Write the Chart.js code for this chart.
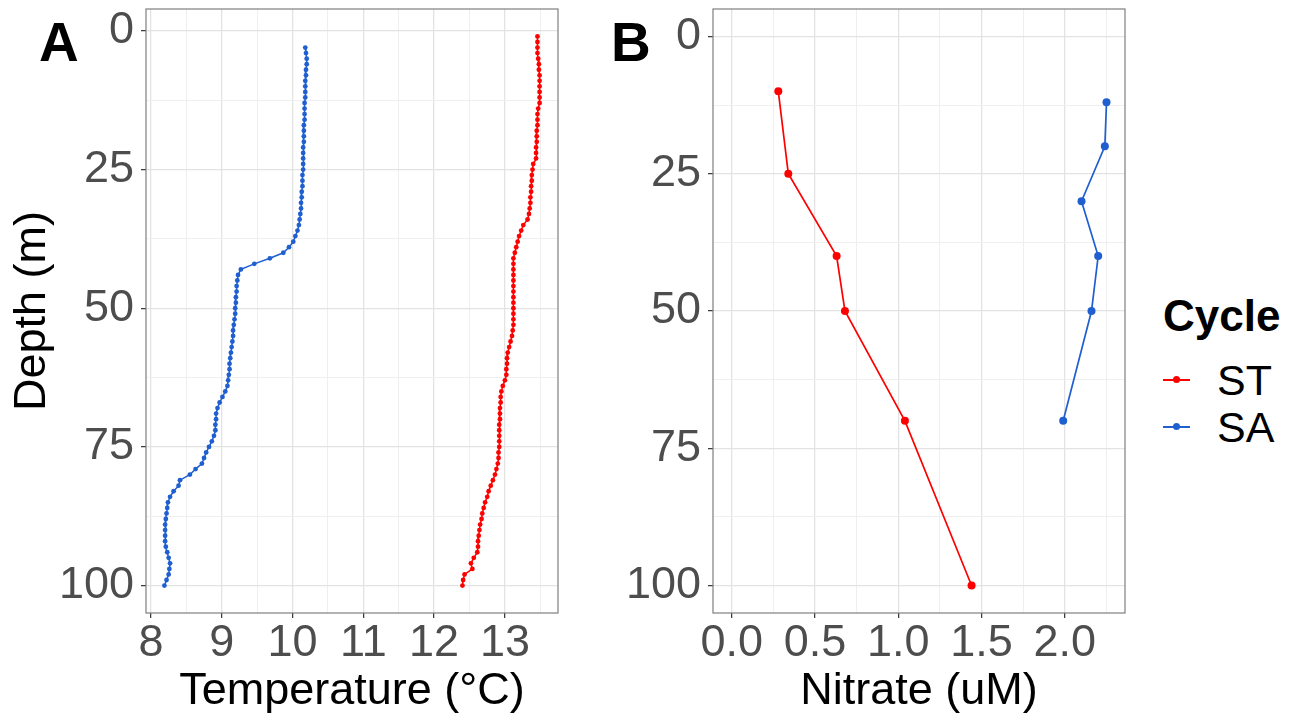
<!DOCTYPE html>
<html>
<head>
<meta charset="utf-8">
<title>Depth profiles</title>
<script src="https://cdn.jsdelivr.net/npm/chart.js@4.4.1/dist/chart.umd.min.js"></script>
<style>
  html, body { margin: 0; padding: 0; background: #fff; }
  #wrap { position: relative; width: 1299px; height: 719px; overflow: hidden;
          font-family: "Liberation Sans", Arial, Helvetica, sans-serif; }
  canvas { position: absolute; top: 0; }
  #chartA { left: 0; }
  #chartB { left: 600px; }
  .tag { position: absolute; font-weight: bold; font-size: 55px; line-height: 55px; color: #000; }
  #legend { position: absolute; left: 1163px; top: 0; }
  .leg-title { position: absolute; left: 0; font-weight: bold; font-size: 44px; line-height: 44px; white-space: nowrap; }
  .leg-item { position: absolute; left: 0; height: 44px; display: flex; align-items: center; white-space: nowrap;
              font-size: 43px; line-height: 44px; color: #000; }
  .leg-key { position: relative; width: 27px; height: 2px; margin-right: 27px; }
  .leg-key span { position: absolute; left: 10px; top: -3px; width: 7px; height: 7px; border-radius: 50%; }
</style>
</head>
<body>
<div id="wrap">
  <canvas id="chartA" width="570" height="719"></canvas>
  <canvas id="chartB" width="560" height="719"></canvas>
  <div class="tag" style="left:39px; top:15px;">A</div>
  <div class="tag" style="left:611px; top:15px;">B</div>
  <div id="legend"></div>
</div>
<script>
// ---- data ----
const cycles = ["ST", "SA"];
const cycleColors = ["#ff0000", "#1f5fd0"];

// Panel A: CTD temperature profiles (1 m bins)
const depthST = [1,2,3,4,5,6,7,8,9,10,11,12,13,14,15,16,17,18,19,20,21,22,23,24,25,26,27,28,29,30,31,32,33,34,35,36,37,38,39,40,41,42,43,44,45,46,47,48,49,50,51,52,53,54,55,56,57,58,59,60,61,62,63,64,65,66,67,68,69,70,71,72,73,74,75,76,77,78,79,80,81,82,83,84,85,86,87,88,89,90,91,92,93,94,95,96,97,98,99,100];
const tempST = [13.46,13.46,13.46,13.46,13.47,13.48,13.48,13.49,13.49,13.49,13.49,13.49,13.49,13.47,13.46,13.46,13.46,13.45,13.45,13.45,13.44,13.44,13.44,13.40,13.39,13.38,13.38,13.37,13.37,13.36,13.36,13.35,13.34,13.32,13.26,13.23,13.20,13.18,13.16,13.14,13.12,13.12,13.12,13.12,13.12,13.12,13.12,13.12,13.12,13.12,13.12,13.12,13.12,13.11,13.10,13.08,13.06,13.04,13.03,13.03,13.02,13.02,13.00,12.97,12.95,12.94,12.94,12.93,12.93,12.93,12.92,12.92,12.92,12.92,12.92,12.91,12.91,12.90,12.88,12.86,12.83,12.80,12.77,12.75,12.72,12.70,12.68,12.67,12.65,12.64,12.63,12.62,12.62,12.61,12.56,12.52,12.54,12.43,12.41,12.40];

const depthSA = [3,4,5,6,7,8,9,10,11,12,13,14,15,16,17,18,19,20,21,22,23,24,25,26,27,28,29,30,31,32,33,34,35,36,37,38,39,40,41,42,43,44,45,46,47,48,49,50,51,52,53,54,55,56,57,58,59,60,61,62,63,64,65,66,67,68,69,70,71,72,73,74,75,76,77,78,79,80,81,82,83,84,85,86,87,88,89,90,91,92,93,94,95,96,97,98,99,100];
const tempSA = [10.18,10.19,10.20,10.20,10.19,10.19,10.18,10.18,10.18,10.18,10.17,10.17,10.17,10.17,10.16,10.16,10.16,10.16,10.15,10.15,10.15,10.15,10.15,10.14,10.14,10.14,10.13,10.13,10.12,10.12,10.11,10.10,10.09,10.07,10.04,10.01,9.95,9.87,9.68,9.46,9.27,9.23,9.22,9.21,9.21,9.20,9.20,9.19,9.19,9.18,9.17,9.16,9.16,9.15,9.14,9.13,9.12,9.11,9.11,9.10,9.09,9.08,9.05,9.01,8.97,8.94,8.92,8.92,8.91,8.91,8.89,8.86,8.82,8.78,8.75,8.72,8.63,8.55,8.41,8.39,8.32,8.27,8.24,8.23,8.22,8.21,8.20,8.20,8.20,8.20,8.21,8.23,8.25,8.27,8.26,8.25,8.22,8.19];

// Panel B: bottle nitrate
const nitDepthST = [10, 25, 40, 50, 70, 100];
const nitrateST = [0.28, 0.34, 0.63, 0.68, 1.04, 1.44];
const nitDepthSA = [12, 20, 30, 40, 50, 70];
const nitrateSA = [2.25, 2.24, 2.10, 2.20, 2.16, 1.99];

// axis ticks
const depthMajor = [0, 25, 50, 75, 100];
const depthMinor = [12.5, 37.5, 62.5, 87.5];
const tempMajor = [8, 9, 10, 11, 12, 13];
const tempMinor = [8.5, 9.5, 10.5, 11.5, 12.5, 13.5];
const nitMajor = [0, 0.5, 1.0, 1.5, 2.0];
const nitMinor = [0.25, 0.75, 1.25, 1.75, 2.25];

const FONT = '"Liberation Sans", Arial, Helvetica, sans-serif';

function toPoints(xs, ys) {
  return xs.map((x, i) => ({ x: x, y: ys[i] }));
}

function tickSet(major, minor) {
  return major.concat(minor).sort((a, b) => a - b);
}

function isIn(list, v) {
  return list.some((m) => Math.abs(m - v) < 1e-9);
}

// ggplot-like panel frame drawn round the plot area
const panelBorder = {
  id: "panelBorder",
  afterDraw(chart) {
    const { ctx, chartArea: a } = chart;
    ctx.save();
    ctx.strokeStyle = "#7f7f7f";
    ctx.lineWidth = 1.2;
    ctx.strokeRect(a.left, a.top, a.right - a.left, a.bottom - a.top);
    ctx.restore();
  }
};

function axis(opts) {
  const { min, max, major, minor, reverse, fmt, title, size, horizontal } = opts;
  return {
    type: "linear",
    min, max, reverse: !!reverse,
    bounds: "data",
    afterBuildTicks: (a) => { a.ticks = tickSet(major, minor).map((v) => ({ value: v })); },
    afterFit: (a) => {
      if (horizontal) a.height = size; else a.width = size;
      // labels may hang over the panel edges, no extra room needed
      a.paddingTop = 0; a.paddingBottom = 0; a.paddingLeft = 0; a.paddingRight = 0;
    },
    border: { display: false },
    grid: {
      color: (c) => isIn(major, c.tick.value) ? "#e3e3e3" : "#efefef",
      lineWidth: (c) => isIn(major, c.tick.value) ? 1.3 : 1,
      tickColor: (c) => isIn(major, c.tick.value) ? "#333333" : "rgba(0,0,0,0)",
      tickWidth: 1.2,
      tickLength: 5,
      drawTicks: true
    },
    ticks: {
      autoSkip: false,
      maxRotation: 0,
      padding: horizontal ? 3 : 7,
      color: "#4d4d4d",
      font: { family: FONT, size: 45, lineHeight: 1 },
      callback: (v) => isIn(major, v) ? fmt(v) : ""
    },
    title: title ? {
      display: true,
      text: title,
      color: "#000",
      font: { family: FONT, size: 45, lineHeight: 1.2 },
      padding: horizontal ? { top: 0, bottom: 0 } : { top: 6, bottom: 0 }
    } : { display: false }
  };
}

function baseOptions(xAxis, yAxis, padRight) {
  return {
    responsive: false,
    animation: false,
    events: [],
    layout: { padding: { left: 0, right: padRight, top: 9, bottom: 0 } },
    plugins: { legend: { display: false }, tooltip: { enabled: false } },
    scales: { x: xAxis, y: yAxis }
  };
}

function series(label, pts, color, radius, width) {
  return {
    label,
    data: pts,
    showLine: true,
    borderColor: color,
    backgroundColor: color,
    borderWidth: width,
    pointRadius: radius,
    pointBorderWidth: 0,
    pointBackgroundColor: color
  };
}

new Chart(document.getElementById("chartA"), {
  type: "scatter",
  data: {
    datasets: [
      series(cycles[0], toPoints(tempST, depthST), cycleColors[0], 2.4, 1.5),
      series(cycles[1], toPoints(tempSA, depthSA), cycleColors[1], 2.4, 1.5)
    ]
  },
  options: baseOptions(
    axis({ min: 7.93, max: 13.75, major: tempMajor, minor: tempMinor, fmt: (v) => String(v),
           title: "Temperature (°C)", size: 106, horizontal: true }),
    axis({ min: -3.95, max: 104.95, major: depthMajor, minor: depthMinor, reverse: true,
           fmt: (v) => String(v), title: "Depth (m)", size: 146 }),
    12
  ),
  plugins: [panelBorder]
});

new Chart(document.getElementById("chartB"), {
  type: "scatter",
  data: {
    datasets: [
      series(cycles[0], toPoints(nitrateST, nitDepthST), cycleColors[0], 4, 1.7),
      series(cycles[1], toPoints(nitrateSA, nitDepthSA), cycleColors[1], 4, 1.7)
    ]
  },
  options: baseOptions(
    axis({ min: -0.112, max: 2.361, major: nitMajor, minor: nitMinor, fmt: (v) => v.toFixed(1),
           title: "Nitrate (uM)", size: 106, horizontal: true }),
    axis({ min: -5, max: 105, major: depthMajor, minor: depthMinor, reverse: true,
           fmt: (v) => String(v), size: 113 }),
    35
  ),
  plugins: [panelBorder]
});

// legend (shared by both panels)
const legend = document.getElementById("legend");
legend.innerHTML = `<div class="leg-title" style="top:294px">Cycle</div>` +
  cycles.map((c, i) => `
    <div class="leg-item" style="top:${358 + i * 47}px">
      <div class="leg-key" style="background:${cycleColors[i]}"><span style="background:${cycleColors[i]}"></span></div>
      ${c}
    </div>`).join("");
</script>
</body>
</html>
